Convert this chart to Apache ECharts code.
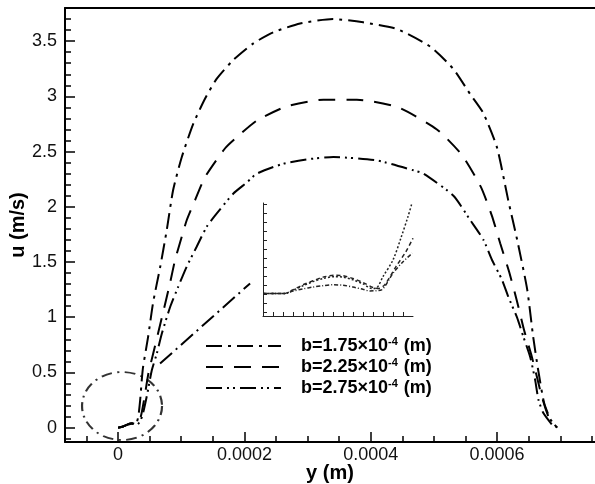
<!DOCTYPE html>
<html>
<head>
<meta charset="utf-8">
<script src="https://cdn.jsdelivr.net/npm/echarts@6/dist/echarts.min.js"></script>
<style>
  html, body { margin: 0; padding: 0; background: #fff; }
  #chart { width: 595px; height: 484px; }
</style>
</head>
<body>
<div id="chart"></div>
<script>
// y position in units of 1e-4 m, u in m/s
const bValues = ['1.75', '2.25', '2.75']
const seriesNames = bValues.map(b => 'b=' + b + '×10-4 (m)')

const curve175 = [
  [0, 0], [0.08, 0.01], [0.15, 0.03], [0.22, 0.04], [0.28, 0.03], [0.32, 0.1], [0.35, 0.25],
  [0.375, 0.43], [0.396, 0.55], [0.475, 0.82], [0.554, 1.13], [0.665, 1.45], [0.771, 1.79],
  [0.871, 2.15], [1.009, 2.45], [1.19, 2.75], [1.378, 2.98], [1.563, 3.16], [1.826, 3.33],
  [2.143, 3.48], [2.459, 3.58], [2.882, 3.66], [3.404, 3.70], [3.88, 3.67], [4.413, 3.61],
  [4.941, 3.45], [5.305, 3.25], [5.574, 3.02], [5.78, 2.85], [5.997, 2.54], [6.176, 2.06],
  [6.318, 1.70], [6.477, 1.25], [6.572, 0.82], [6.651, 0.52], [6.746, 0.22], [6.85, 0.07], [6.95, 0]
]
const curve225 = [
  [0, 0], [0.08, 0.01], [0.15, 0.03], [0.22, 0.04], [0.3, 0.03], [0.36, 0.1], [0.42, 0.28],
  [0.48, 0.49], [0.56, 0.68], [0.64, 0.87], [0.72, 1.06], [0.823, 1.31], [0.903, 1.52],
  [1.009, 1.73], [1.088, 1.88], [1.219, 2.06], [1.378, 2.27], [1.695, 2.53], [1.88, 2.63],
  [2.196, 2.78], [2.672, 2.91], [3.251, 2.97], [3.78, 2.97], [4.434, 2.90], [5.047, 2.70],
  [5.442, 2.47], [5.743, 2.18], [5.917, 1.92], [6.049, 1.67], [6.196, 1.40], [6.313, 1.15],
  [6.429, 0.88], [6.551, 0.64], [6.63, 0.46], [6.709, 0.28], [6.814, 0.10], [6.95, 0]
]
const curve275 = [
  [0, 0], [0.08, 0.01], [0.15, 0.025], [0.22, 0.035], [0.3, 0.025], [0.38, 0.1], [0.46, 0.3],
  [0.534, 0.52], [0.613, 0.67], [0.692, 0.85], [0.823, 1.09], [0.955, 1.28], [1.088, 1.46],
  [1.246, 1.64], [1.404, 1.82], [1.563, 1.94], [1.826, 2.12], [2.038, 2.22], [2.196, 2.30],
  [2.617, 2.39], [3.0, 2.43], [3.409, 2.45], [4.096, 2.42], [4.676, 2.33], [4.834, 2.30],
  [5.309, 2.10], [5.574, 1.88], [5.785, 1.70], [5.918, 1.52], [6.077, 1.34], [6.181, 1.18],
  [6.314, 1.00], [6.418, 0.82], [6.524, 0.64], [6.603, 0.43], [6.656, 0.25], [6.735, 0.13], [6.893, 0.01]
]

// inset (zoom of the circled region), arbitrary units
const inset175 = [
  [0, 2.1], [1, 2.1], [2.2, 2.1], [3, 2.45], [4, 2.95], [5, 3.4], [6, 3.75], [7.2, 3.95], [8, 3.9],
  [9, 3.6], [10, 3.15], [10.9, 2.65], [11.35, 2.7], [12, 3.96], [13, 5.8], [13.84, 8.39], [14.5, 10.6], [14.9, 12.1]
]
const inset225 = [
  [0, 2.1], [2.2, 2.1], [3, 2.5], [4, 3.05], [5, 3.5], [6, 3.9], [7.2, 4.1], [8, 4.05], [9, 3.75],
  [10, 3.3], [11, 2.75], [11.6, 2.65], [12.2, 3.1], [13.3, 5.07], [14.3, 6.73], [15, 8.2]
]
const inset275 = [
  [0, 2.1], [2.2, 2.1], [3, 2.35], [4, 2.6], [5, 2.8], [6, 2.95], [7, 3.05], [8, 3.0], [9, 2.8],
  [10, 2.55], [10.7, 2.37], [11.3, 2.4], [11.85, 2.48], [13, 4.33], [14, 5.6], [14.93, 6.55]
]

// circle marker and connector to the inset (data coords)
const circleCenter = [[0.063, 0.196]]
const connector = [[0.665, 0.58], [2.09, 1.306]]

const xTickValues = [0, 2, 4, 6]
const xTickLabels = ['0', '0.0002', '0.0004', '0.0006']
const xMinorTicks = [-0.5, 0.5, 1, 1.5, 2.5, 3, 3.5, 4.5, 5, 5.5, 6.5, 7, 7.5]
const yTickValues = [0, 0.5, 1, 1.5, 2, 2.5, 3, 3.5]
const yTickLabels = ['0', '0.5', '1', '1.5', '2', '2.5', '3', '3.5']
const yMinorTicks = [-0.1, 0.1, 0.2, 0.3, 0.4, 0.6, 0.7, 0.8, 0.9, 1.1, 1.2, 1.3, 1.4, 1.6, 1.7, 1.8, 1.9,
  2.1, 2.2, 2.3, 2.4, 2.6, 2.7, 2.8, 2.9, 3.1, 3.2, 3.3, 3.4, 3.6, 3.7]
const insetXTicks = [1, 2, 3, 4, 5, 6, 7, 8, 9, 10, 11, 12, 13, 14]
const insetYTicks = [0, 1, 2, 3, 4, 5, 6, 7, 8, 9, 10, 11, 12]

const FONT = '"Liberation Sans", Arial, sans-serif'
const X_MIN = -0.84, X_MAX = 7.55, Y_MIN = -0.13, Y_MAX = 3.8

const dashes = [[16, 6, 3, 6], [17, 11], [16, 5, 2, 4, 2, 5]]
const insetDashes = [[2, 2], [4, 3], [4, 2, 1, 2]]

const chart = echarts.init(document.getElementById('chart'))

const hidden = { show: false }
const blackLine = { show: true, onZero: false, lineStyle: { color: '#000', width: 2 } }

chart.setOption({
  animation: false,
  backgroundColor: '#fff',
  grid: [
    { left: 65, top: 8, right: 0, bottom: 42, outerBoundsMode: 'none' },
    { left: 263, top: 203, width: 150, height: 113, outerBoundsMode: 'none' }
  ],
  legend: {
    orient: 'vertical',
    left: 205,
    top: 336,
    padding: 0,
    itemWidth: 75,
    itemHeight: 14,
    itemGap: 2,
    data: seriesNames,
    itemStyle: { color: 'rgba(0,0,0,0)', borderColor: 'rgba(0,0,0,0)', borderWidth: 0 },
    formatter: name => {
      const i = seriesNames.indexOf(name)
      return '{t|b=' + bValues[i] + '×10}{s|-4}{t| (m)}'
    },
    textStyle: {
      padding: [0, 0, 0, 15],
      rich: {
        t: { fontFamily: FONT, fontWeight: 'bold', fontSize: 18, color: '#000', lineHeight: 18, verticalAlign: 'bottom' },
        s: { fontFamily: FONT, fontWeight: 'bold', fontSize: 11, color: '#000', lineHeight: 11, verticalAlign: 'bottom', padding: [0, 1, 8, 0] }
      }
    }
  },
  xAxis: [
    {
      type: 'value', gridIndex: 0, position: 'bottom', min: X_MIN, max: X_MAX,
      name: 'y (m)', nameLocation: 'middle', nameGap: 21, nameMoveOverlap: false,
      nameTextStyle: { fontFamily: FONT, fontWeight: 'bold', fontSize: 20, color: '#000' },
      axisLine: blackLine,
      axisTick: { show: true, inside: true, length: 10, customValues: xTickValues, lineStyle: { color: '#000', width: 1.5 } },
      axisLabel: {
        show: true, customValues: xTickValues, margin: 4,
        fontFamily: FONT, fontSize: 18, color: '#111',
        formatter: v => xTickLabels[xTickValues.indexOf(v)]
      },
      splitLine: hidden
    },
    {
      type: 'value', gridIndex: 0, position: 'bottom', min: X_MIN, max: X_MAX,
      axisLine: { show: false, onZero: false }, axisLabel: hidden, splitLine: hidden,
      axisTick: { show: true, inside: true, length: 6, customValues: xMinorTicks, lineStyle: { color: '#000', width: 1.5 } }
    },
    {
      type: 'value', gridIndex: 0, position: 'top', min: X_MIN, max: X_MAX,
      axisLine: blackLine,
      axisTick: hidden, axisLabel: hidden, splitLine: hidden
    },
    {
      type: 'value', gridIndex: 1, min: 0, max: 15,
      axisLine: { show: true, onZero: false, lineStyle: { color: '#222', width: 1 } },
      axisTick: { show: true, inside: true, length: 4, customValues: insetXTicks, lineStyle: { color: '#222', width: 1 } },
      axisLabel: hidden, splitLine: hidden
    }
  ],
  yAxis: [
    {
      type: 'value', gridIndex: 0, position: 'left', min: Y_MIN, max: Y_MAX,
      name: 'u (m/s)', nameLocation: 'middle', nameGap: 37, nameMoveOverlap: false,
      nameTextStyle: { fontFamily: FONT, fontWeight: 'bold', fontSize: 20, color: '#000' },
      axisLine: blackLine,
      axisTick: { show: true, inside: true, length: 10, customValues: yTickValues, lineStyle: { color: '#000', width: 1.5 } },
      axisLabel: {
        show: true, customValues: yTickValues, margin: 8,
        fontFamily: FONT, fontSize: 18, color: '#111',
        formatter: v => yTickLabels[yTickValues.indexOf(v)]
      },
      splitLine: hidden
    },
    {
      type: 'value', gridIndex: 0, position: 'left', min: Y_MIN, max: Y_MAX,
      axisLine: { show: false, onZero: false }, axisLabel: hidden, splitLine: hidden,
      axisTick: { show: true, inside: true, length: 6, customValues: yMinorTicks, lineStyle: { color: '#000', width: 1.5 } }
    },
    {
      type: 'value', gridIndex: 1, min: -0.4, max: 12.1,
      axisLine: { show: true, onZero: false, lineStyle: { color: '#222', width: 1 } },
      axisTick: { show: true, inside: true, length: 4, customValues: insetYTicks, lineStyle: { color: '#222', width: 1 } },
      axisLabel: hidden, splitLine: hidden
    }
  ],
  series: [
    ...[curve175, curve225, curve275].map((data, i) => ({
      name: seriesNames[i],
      type: 'line',
      xAxisIndex: 0,
      yAxisIndex: 0,
      symbol: 'none',
      smooth: 0.2,
      data,
      lineStyle: { color: '#000', width: 2, type: dashes[i] },
      itemStyle: { color: '#000' }
    })),
    ...[inset175, inset225, inset275].map((data, i) => ({
      type: 'line',
      xAxisIndex: 3,
      yAxisIndex: 2,
      symbol: 'none',
      smooth: 0.3,
      data,
      lineStyle: { color: '#222', width: 1.5, type: insetDashes[i] }
    })),
    {
      type: 'scatter',
      xAxisIndex: 0,
      yAxisIndex: 0,
      silent: true,
      symbol: 'circle',
      symbolSize: [80, 68],
      data: circleCenter,
      itemStyle: { color: 'rgba(0,0,0,0)', borderColor: '#000', borderWidth: 2, borderType: [10, 5, 2, 5] }
    },
    {
      type: 'line',
      xAxisIndex: 0,
      yAxisIndex: 0,
      silent: true,
      symbol: 'none',
      data: connector,
      lineStyle: { color: '#000', width: 2, type: [16, 5, 2, 5] }
    }
  ]
})
</script>
</body>
</html>
